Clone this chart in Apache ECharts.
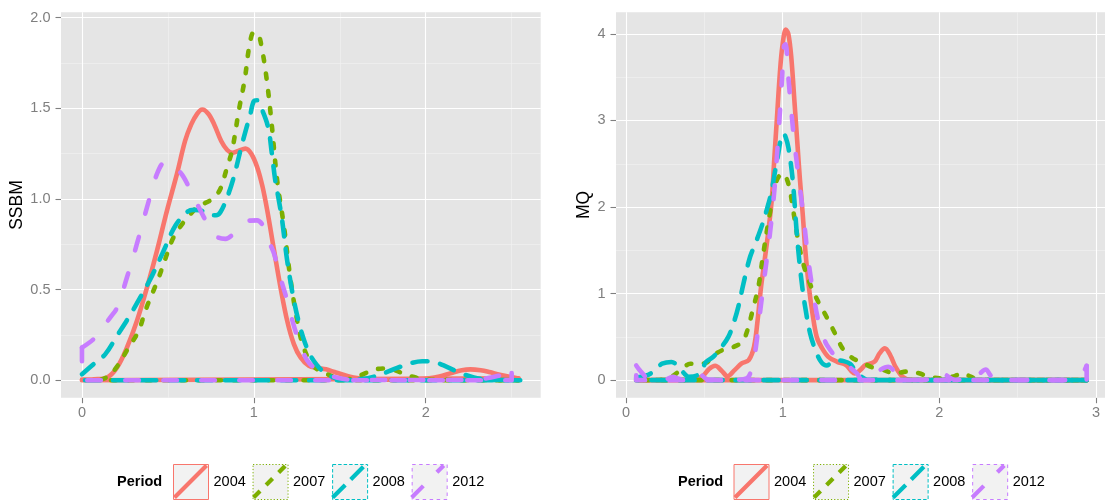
<!DOCTYPE html>
<html><head><meta charset="utf-8">
<script src="https://cdn.jsdelivr.net/npm/echarts@6/dist/echarts.min.js"></script>
<style>html,body{margin:0;padding:0;background:#fff}#c{width:1109px;height:501px}</style>
</head><body><div id="c"></div>
<script>
// ---------------- DATA ----------------
const periods = ['2004', '2007', '2008', '2012'];

// SSBM densities [x, density]
const ssbm2004 = [[0.00,0.003],[0.07,0.005],[0.146,0.015],[0.204,0.07],[0.262,0.181],[0.32,0.328],[0.379,0.513],[0.437,0.716],[0.495,0.937],[0.553,1.14],[0.60,1.32],[0.635,1.41],[0.67,1.47],[0.70,1.494],[0.735,1.47],[0.77,1.41],[0.81,1.32],[0.845,1.27],[0.874,1.255],[0.91,1.265],[0.951,1.278],[0.985,1.25],[1.019,1.177],[1.05,1.07],[1.078,0.937],[1.117,0.72],[1.155,0.513],[1.194,0.328],[1.233,0.199],[1.272,0.125],[1.32,0.079],[1.37,0.068],[1.42,0.06],[1.47,0.045],[1.52,0.03],[1.58,0.015],[1.66,0.006],[1.80,0.003],[1.95,0.006],[2.02,0.01],[2.08,0.02],[2.15,0.04],[2.21,0.055],[2.26,0.06],[2.32,0.055],[2.37,0.045],[2.43,0.03],[2.48,0.02],[2.54,0.01]];
const ssbm2007 = [[0.11,0.003],[0.15,0.02],[0.204,0.075],[0.272,0.181],[0.33,0.273],[0.369,0.384],[0.41,0.48],[0.447,0.568],[0.485,0.67],[0.524,0.771],[0.56,0.83],[0.592,0.873],[0.625,0.91],[0.66,0.946],[0.70,0.97],[0.748,0.993],[0.78,1.02],[0.806,1.057],[0.845,1.177],[0.874,1.27],[0.913,1.49],[0.947,1.66],[0.975,1.85],[1.0,1.92],[1.025,1.91],[1.045,1.84],[1.072,1.68],[1.10,1.45],[1.136,1.10],[1.175,0.85],[1.21,0.58],[1.25,0.34],[1.29,0.18],[1.35,0.075],[1.44,0.028],[1.52,0.005],[1.58,0.01],[1.64,0.035],[1.70,0.058],[1.76,0.065],[1.82,0.055],[1.90,0.025],[2.0,0.006],[2.1,0.002],[2.3,0.001],[2.54,0.0]];
const ssbm2008 = [[0.0,0.033],[0.068,0.089],[0.136,0.144],[0.204,0.245],[0.272,0.347],[0.34,0.458],[0.408,0.577],[0.476,0.716],[0.544,0.854],[0.612,0.928],[0.65,0.94],[0.689,0.937],[0.748,0.91],[0.78,0.91],[0.806,0.928],[0.845,1.01],[0.883,1.12],[0.932,1.306],[0.98,1.47],[1.0,1.54],[1.02,1.545],[1.04,1.51],[1.082,1.40],[1.105,1.25],[1.124,1.106],[1.146,0.99],[1.165,0.88],[1.194,0.66],[1.233,0.44],[1.27,0.29],[1.30,0.20],[1.333,0.13],[1.37,0.08],[1.395,0.055],[1.44,0.025],[1.48,0.01],[1.55,0.002],[1.62,0.005],[1.70,0.02],[1.80,0.055],[1.90,0.09],[1.98,0.105],[2.05,0.10],[2.12,0.075],[2.20,0.04],[2.28,0.015],[2.35,0.004],[2.45,0.001],[2.55,0.0]];
const ssbm2012 = [[0.0,0.18],[0.068,0.227],[0.12,0.29],[0.165,0.347],[0.204,0.40],[0.262,0.568],[0.32,0.753],[0.379,0.956],[0.437,1.14],[0.485,1.205],[0.52,1.20],[0.544,1.177],[0.592,1.12],[0.65,1.01],[0.709,0.90],[0.75,0.83],[0.786,0.79],[0.835,0.78],[0.883,0.808],[0.93,0.85],[0.97,0.88],[1.019,0.882],[1.058,0.845],[1.09,0.76],[1.117,0.70],[1.15,0.58],[1.194,0.44],[1.233,0.30],[1.272,0.19],[1.31,0.11],[1.35,0.07],[1.40,0.04],[1.48,0.015],[1.56,0.003],[1.8,0.001],[2.2,0.001],[2.30,0.004],[2.38,0.015],[2.45,0.03],[2.50,0.04]];

// MQ densities [x, density]
const mq2004 = [[0.065,0.002],[0.2,0.001],[0.35,0.002],[0.44,0.01],[0.49,0.05],[0.53,0.13],[0.569,0.166],[0.61,0.11],[0.648,0.045],[0.693,0.116],[0.738,0.193],[0.783,0.232],[0.817,0.386],[0.84,0.695],[0.862,1.08],[0.885,1.39],[0.907,1.70],[0.93,2.085],[0.946,2.548],[0.964,3.05],[0.982,3.55],[0.998,3.86],[1.02,4.05],[1.036,4.0],[1.054,3.745],[1.077,3.166],[1.095,2.70],[1.11,2.317],[1.129,1.89],[1.144,1.506],[1.167,1.08],[1.19,0.772],[1.217,0.50],[1.246,0.386],[1.291,0.27],[1.348,0.212],[1.404,0.174],[1.44,0.10],[1.46,0.077],[1.494,0.116],[1.528,0.174],[1.585,0.212],[1.618,0.309],[1.652,0.367],[1.686,0.29],[1.72,0.154],[1.765,0.039],[1.82,0.003],[2.2,0.001],[2.6,0.001],[2.94,0.0]];
const mq2007 = [[0.08,0.0],[0.2,0.002],[0.28,0.03],[0.33,0.09],[0.37,0.15],[0.41,0.19],[0.46,0.19],[0.51,0.2],[0.56,0.29],[0.62,0.35],[0.68,0.38],[0.74,0.44],[0.77,0.55],[0.81,0.82],[0.845,1.08],[0.876,1.46],[0.92,1.95],[0.96,2.3],[1.0,2.39],[1.036,2.27],[1.068,1.95],[1.1,1.6],[1.132,1.34],[1.175,1.11],[1.228,0.90],[1.28,0.73],[1.334,0.54],[1.388,0.35],[1.45,0.25],[1.5,0.21],[1.568,0.15],[1.64,0.12],[1.71,0.08],[1.80,0.10],[1.87,0.08],[1.93,0.04],[2.03,0.02],[2.10,0.05],[2.15,0.08],[2.2,0.04],[2.26,0.003],[2.6,0.001],[2.94,0.0]];
const mq2008 = [[0.065,0.03],[0.12,0.05],[0.16,0.08],[0.2,0.14],[0.23,0.19],[0.29,0.21],[0.34,0.15],[0.37,0.08],[0.40,0.04],[0.456,0.058],[0.49,0.14],[0.51,0.21],[0.557,0.27],[0.60,0.36],[0.653,0.5],[0.69,0.68],[0.717,0.85],[0.75,1.12],[0.791,1.42],[0.83,1.6],[0.87,1.8],[0.90,1.98],[0.925,2.15],[0.95,2.4],[0.972,2.62],[0.99,2.8],[1.005,2.85],[1.02,2.8],[1.036,2.69],[1.052,2.5],[1.068,2.23],[1.09,1.69],[1.11,1.31],[1.126,1.06],[1.143,0.85],[1.175,0.54],[1.217,0.31],[1.25,0.2],[1.281,0.17],[1.31,0.2],[1.345,0.23],[1.39,0.22],[1.43,0.19],[1.46,0.12],[1.483,0.08],[1.51,0.03],[1.54,0.005],[2.0,0.001],[2.94,0.0]];
const mq2012 = [[0.065,0.17],[0.085,0.12],[0.106,0.077],[0.13,0.03],[0.15,0.005],[0.22,0.003],[0.27,0.02],[0.30,0.04],[0.33,0.02],[0.38,0.004],[0.43,0.03],[0.467,0.077],[0.50,0.03],[0.53,0.005],[0.70,0.005],[0.77,0.02],[0.80,0.12],[0.824,0.32],[0.855,0.78],[0.887,1.24],[0.919,1.70],[0.947,2.2],[0.972,2.82],[0.994,3.43],[1.008,3.86],[1.018,3.88],[1.036,3.5],[1.068,2.86],[1.1,2.36],[1.132,1.9],[1.164,1.38],[1.196,0.99],[1.228,0.68],[1.26,0.5],[1.281,0.41],[1.345,0.26],[1.409,0.19],[1.44,0.13],[1.473,0.08],[1.505,0.01],[1.56,0.02],[1.62,0.116],[1.675,0.155],[1.71,0.11],[1.74,0.058],[1.78,0.005],[1.9,0.002],[1.96,0.04],[2.01,0.108],[2.05,0.05],[2.10,0.005],[2.22,0.01],[2.26,0.08],[2.296,0.124],[2.33,0.05],[2.38,0.003],[2.8,0.001],[2.88,0.02],[2.92,0.1],[2.94,0.166]];

// Axis ticks / gridlines
const ssbmXTicks = [0, 1, 2];
const ssbmXMinor = [0.5, 1.5, 2.5];
const ssbmYTicks = [0, 0.5, 1, 1.5, 2];
const ssbmYMinor = [0.25, 0.75, 1.25, 1.75];
const mqXTicks = [0, 1, 2, 3];
const mqXMinor = [0.5, 1.5, 2.5];
const mqYTicks = [0, 1, 2, 3, 4];
const mqYMinor = [0.5, 1.5, 2.5, 3.5];

// ---------------- STYLE ----------------
const colors = ['#F8766D', '#7CAE00', '#00BFC4', '#C77CFF'];
const LW = 4.6;
const lineDash = ['solid', [5, 12.5], [15.2, 12.8], [13.6, 24.4]];
const keyDash = [[0, 0], [10, 9.4], [19.5, 8.5], [18, 21]];
const boxDash = ['solid', [1.2, 2], [3.5, 2], [3.5, 3.5]];
const FONT = '"Liberation Sans", Arial, Helvetica, sans-serif';
const GREY = '#7F7F7F';

const panels = [
  { data: [ssbm2004, ssbm2007, ssbm2008, ssbm2012], name: 'SSBM', xTicks: ssbmXTicks, xMinor: ssbmXMinor, yTicks: ssbmYTicks, yMinor: ssbmYMinor,
    xMin: -0.122, xMax: 2.669, yMin: -0.0965, yMax: 2.03, grid: { left: 61, top: 12.3, width: 479.7, height: 385.4 }, nameGap: 34, yFmt: v => v.toFixed(1),
    legendLeft: 173, titleX: 117 },
  { data: [mq2004, mq2007, mq2008, mq2012], name: 'MQ', xTicks: mqXTicks, xMinor: mqXMinor, yTicks: mqYTicks, yMinor: mqYMinor,
    xMin: -0.064, xMax: 3.057, yMin: -0.2025, yMax: 4.25, grid: { left: 616, top: 12.3, width: 489, height: 385.4 }, nameGap: 18, yFmt: v => String(v),
    legendLeft: 733.5, titleX: 678 }
];

function diagPath(dash, gap, w) {
  const S = 35, L = S * Math.SQRT2, r = w / (2 * Math.SQRT2), q = Math.SQRT2;
  let d = `path://M${-r} ${-r}L${-r + 0.01} ${-r}L${-r} ${-r + 0.01}Z M${S + r} ${S + r}L${S + r - 0.01} ${S + r}L${S + r} ${S + r - 0.01}Z`;
  const step = gap > 0 ? dash + gap : L + 1;
  for (let s = 0; s < L; s += step) {
    const e = gap > 0 ? Math.min(L, s + dash) : L;
    const x0 = s / q, y0 = S - s / q, x1 = e / q, y1 = S - e / q;
    d += ` M${(x0 + r).toFixed(2)} ${(y0 + r).toFixed(2)}L${(x1 + r).toFixed(2)} ${(y1 + r).toFixed(2)}L${(x1 - r).toFixed(2)} ${(y1 - r).toFixed(2)}L${(x0 - r).toFixed(2)} ${(y0 - r).toFixed(2)}Z`;
  }
  return d;
}

const grid = [], xAxis = [], yAxis = [], series = [], legend = [], graphic = [];

panels.forEach((p, pi) => {
  grid.push(Object.assign({ show: true, backgroundColor: '#E5E5E5', borderWidth: 0, containLabel: false }, p.grid));
  xAxis.push({
    gridIndex: pi, type: 'value', min: p.xMin, max: p.xMax,
    axisLine: { show: false, onZero: false }, splitLine: { show: false },
    axisTick: { show: true, customValues: p.xTicks, length: 5.5, lineStyle: { color: GREY, width: 1.1 } },
    axisLabel: { customValues: p.xTicks, color: GREY, fontSize: 14.5, fontFamily: FONT, margin: 8 }
  });
  yAxis.push({
    gridIndex: pi, type: 'value', min: p.yMin, max: p.yMax,
    name: p.name, nameLocation: 'middle', nameRotate: 90, nameGap: p.nameGap,
    nameTextStyle: { color: '#000', fontSize: 17.5, fontFamily: FONT },
    axisLine: { show: false, onZero: false }, splitLine: { show: false },
    axisTick: { show: true, customValues: p.yTicks, length: 5.5, lineStyle: { color: GREY, width: 1.1 } },
    axisLabel: { customValues: p.yTicks, color: GREY, fontSize: 14.5, fontFamily: FONT, margin: 10.5, formatter: p.yFmt }
  });
  const minor = { type: 'solid', color: '#F2F2F2', width: 0.6 };
  const major = { type: 'solid', color: '#FFFFFF', width: 1.1 };
  series.push({
    type: 'line', name: 'grid' + pi, xAxisIndex: pi, yAxisIndex: pi, data: [], silent: true, animation: false,
    markLine: {
      z: 1, silent: true, animation: false, symbol: ['none', 'none'], label: { show: false }, emphasis: { disabled: true },
      data: [].concat(
        p.xMinor.map(v => ({ xAxis: v, lineStyle: minor })),
        p.yMinor.map(v => ({ yAxis: v, lineStyle: minor })),
        p.xTicks.map(v => ({ xAxis: v, lineStyle: major })),
        p.yTicks.map(v => ({ yAxis: v, lineStyle: major }))
      )
    }
  });
  p.data.forEach((d, i) => {
    const ls = { color: colors[i], width: LW, type: lineDash[i], cap: 'round', join: 'round' };
    series.push({
      type: 'line', name: periods[i], xAxisIndex: pi, yAxisIndex: pi, data: d, smooth: 0.35,
      showSymbol: false, symbol: 'none', silent: true, emphasis: { disabled: true }, z: 2,
      lineStyle: ls, itemStyle: { color: colors[i] }
    });
    const f = d[0], l = d[d.length - 1];
    series.push({
      type: 'line', name: periods[i], xAxisIndex: pi, yAxisIndex: pi,
      data: [[l[0], l[1]], [l[0], 0], [f[0], 0], [f[0], f[1]]], smooth: false,
      showSymbol: false, symbol: 'none', silent: true, emphasis: { disabled: true }, z: 2,
      lineStyle: ls, itemStyle: { color: colors[i] }
    });
  });
  const common = {
    left: p.legendLeft, top: 464, orient: 'horizontal', padding: 0, itemWidth: 35, itemHeight: 35, itemGap: 6.8,
    selectedMode: false, symbolKeepAspect: false
  };
  legend.push(Object.assign({}, common, {
    z: 4, textStyle: { color: '#000', fontSize: 14.5, fontFamily: FONT },
    data: periods.map((n, i) => ({
      name: n, icon: 'rect',
      itemStyle: { color: '#F2F2F2', borderColor: colors[i], borderWidth: 1, borderType: boxDash[i], opacity: 1 }
    }))
  }));
  legend.push(Object.assign({}, common, {
    z: 5, textStyle: { color: 'rgba(0,0,0,0)', fontSize: 14.5, fontFamily: FONT },
    data: periods.map((n, i) => ({
      name: n, icon: diagPath(keyDash[i][0], keyDash[i][1], LW),
      itemStyle: { color: colors[i], borderWidth: 0 }
    }))
  }));
  graphic.push({
    type: 'text', x: p.titleX, y: 482, silent: true,
    style: { text: 'Period', font: 'bold 14.5px ' + FONT, fill: '#000', verticalAlign: 'middle', align: 'left' }
  });
});

const chart = echarts.init(document.getElementById('c'), null, { renderer: 'canvas' });
chart.setOption({
  animation: false,
  backgroundColor: '#FFFFFF',
  grid, xAxis, yAxis, series, legend, graphic
});
</script>
</body></html>
